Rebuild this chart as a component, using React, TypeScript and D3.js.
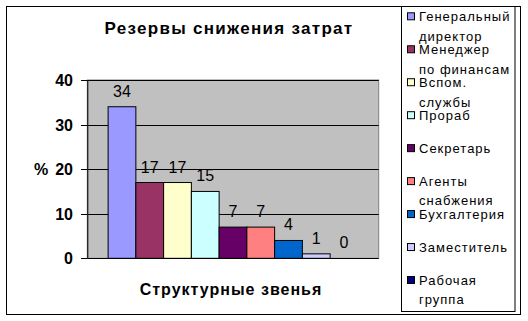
import React from "react";
import * as d3 from "d3";

const seriesNames = [
  "Генеральный директор",
  "Менеджер по финансам",
  "Вспом. службы",
  "Прораб",
  "Секретарь",
  "Агенты снабжения",
  "Бухгалтерия",
  "Заместитель",
  "Рабочая группа",
];
const legendLines = [
  ["Генеральный", "директор"],
  ["Менеджер", "по финансам"],
  ["Вспом.", "службы"],
  ["Прораб"],
  ["Секретарь"],
  ["Агенты", "снабжения"],
  ["Бухгалтерия"],
  ["Заместитель"],
  ["Рабочая", "группа"],
];
const values = [34, 17, 17, 15, 7, 7, 4, 1, 0];
const colors = ["#9999FF", "#993366", "#FFFFCC", "#CCFFFF", "#660066", "#FF8080", "#0066CC", "#CCCCFF", "#000080"];
const yTicks = [0, 10, 20, 30, 40];
const title = "Резервы снижения затрат";
const xTitle = "Структурные звенья";
const yTitle = "%";

export default function App() {
  const W = 528, H = 321;
  const plot = { l: 87.3, r: 378.7, t: 80, b: 258.3 };
  const x = d3.scaleBand<string>().domain(seriesNames).range([plot.l, plot.r]).paddingInner(0).paddingOuter(0.75);
  const y = d3.scaleLinear().domain([0, 40]).range([plot.b, plot.t]);
  const legY = d3.scaleLinear().domain([0, 8]).range([16.3, 280]);
  const font = "Arial, 'Liberation Sans', sans-serif";
  return (
    <svg width={W} height={H} style={{ position: "absolute", left: 0, top: 0, background: "#fff" }} fontFamily={font}>
      <rect x={0} y={0} width={W} height={H} fill="#fff" />
      <rect x={6.5} y={6.5} width={514} height={308} fill="none" stroke="#000" strokeWidth={1} />
      <text x={229} y={34} textAnchor="middle" fontSize={17} fontWeight="bold" letterSpacing={1.3}>{title}</text>
      <rect x={plot.l} y={plot.t} width={plot.r - plot.l} height={plot.b - plot.t} fill="#C0C0C0" stroke="#808080" strokeWidth={1} />
      {yTicks.map((t) => (
        <g key={t}>
          {t > 0 && <line x1={plot.l} x2={plot.r} y1={Math.round(y(t)) + 0.5} y2={Math.round(y(t)) + 0.5} stroke="#000" />}
          <line x1={81} x2={plot.l} y1={Math.round(y(t)) + 0.5} y2={Math.round(y(t)) + 0.5} stroke="#000" />
          <text x={73} y={y(t) + 6} textAnchor="end" fontSize={16} fontWeight="bold">{t}</text>
        </g>
      ))}
      <text x={41} y={y(20) + 6} textAnchor="middle" fontSize={16} fontWeight="bold">{yTitle}</text>
      {seriesNames.map((s, i) => (
        <g key={s}>
          {values[i] > 0 && (
            <rect x={x(s)!} y={y(values[i])} width={x.bandwidth()} height={plot.b - y(values[i])} fill={colors[i]} stroke="#000" strokeWidth={1} />
          )}
          <text x={x(s)! + x.bandwidth() / 2} y={y(values[i]) - 10} textAnchor="middle" fontSize={16}>{values[i]}</text>
        </g>
      ))}
      <line x1={plot.l + 0.5} x2={plot.l + 0.5} y1={plot.t} y2={plot.b} stroke="#000" />
      <line x1={plot.l} x2={plot.r} y1={Math.round(plot.b) + 0.5} y2={Math.round(plot.b) + 0.5} stroke="#000" />
      <text x={231} y={295} textAnchor="middle" fontSize={16} fontWeight="bold" letterSpacing={1}>{xTitle}</text>
      <rect x={401.5} y={6.5} width={113.5} height={305} fill="#fff" stroke="#000" strokeWidth={1} />
      {legendLines.map((lines, i) => (
        <g key={i}>
          <rect x={407.5} y={legY(i) - 3.5} width={7} height={7} fill={colors[i]} stroke="#000" strokeWidth={1} />
          {lines.map((ln, j) => (
            <text key={j} x={419} y={legY(i) + 5 + j * 19.3} fontSize={13} letterSpacing={1}>{ln}</text>
          ))}
        </g>
      ))}
    </svg>
  );
}
